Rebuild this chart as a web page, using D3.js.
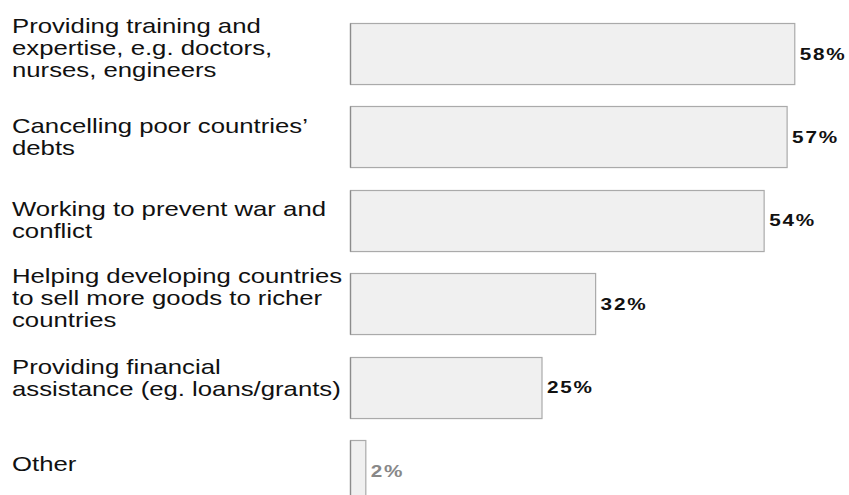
<!DOCTYPE html>
<html>
<head>
<meta charset="utf-8">
<script src="https://cdn.jsdelivr.net/npm/d3@7"></script>
<style>
  body { margin: 0; background: #fff; }
  svg { display: block; }
</style>
</head>
<body>
<div id="chart"></div>
<script>
// chart data
var categories = [
  "Providing training and expertise, e.g. doctors, nurses, engineers",
  "Cancelling poor countries’ debts",
  "Working to prevent war and conflict",
  "Helping developing countries to sell more goods to richer countries",
  "Providing financial assistance (eg. loans/grants)",
  "Other"
];
var labelLines = [
  ["Providing training and", "expertise, e.g. doctors,", "nurses, engineers"],
  ["Cancelling poor countries’", "debts"],
  ["Working to prevent war and", "conflict"],
  ["Helping developing countries", "to sell more goods to richer", "countries"],
  ["Providing financial", "assistance (eg. loans/grants)"],
  ["Other"]
];
var percents = [58, 57, 54, 32, 25, 2];

var svgWidth = 849;
var svgHeight = 495;

// small vertical nudges for the label blocks (layout, not data)
var labelNudge = [-6, 0, 0, -6, -9, -7];
var lineHeight = 22;
// the text in the reference is drawn a bit wide
var textStretch = 1.255;

var svg = d3.select("#chart")
  .append("svg")
  .attr("width", svgWidth)
  .attr("height", svgHeight);

var xScale = d3.scaleLinear()
  .domain([0, 100])
  .range([350, 350 + 766]);

var yScale = d3.scaleBand()
  .domain(categories)
  .range([23, 23 + 83.4 * (categories.length - 0.268)])
  .paddingInner(0.268)
  .paddingOuter(0);

var rows = categories.map(function(c, i) {
  return { cat: c, lines: labelLines[i], value: percents[i], i: i };
});

var row = svg.selectAll("g.row")
  .data(rows)
  .enter()
  .append("g")
  .attr("class", "row");

// bars
row.append("rect")
  .attr("x", xScale(0) + 0.5)
  .attr("y", d => Math.round(yScale(d.cat)) + 0.5)
  .attr("width", d => xScale(d.value) - xScale(0))
  .attr("height", yScale.bandwidth())
  .attr("fill", "#f0f0f0")
  .attr("stroke", "#aaaaaa")
  .attr("stroke-width", 1.2);

// darker left edge
row.append("line")
  .attr("x1", xScale(0) + 0.5)
  .attr("x2", xScale(0) + 0.5)
  .attr("y1", d => Math.round(yScale(d.cat)) + 0.5)
  .attr("y2", d => Math.round(yScale(d.cat)) + 0.5 + yScale.bandwidth())
  .attr("stroke", "#8c8c8c")
  .attr("stroke-width", 1.3);

// value labels
row.append("text")
  .attr("transform", d => `translate(${xScale(d.value) + 5.5}, ${yScale(d.cat) + yScale.bandwidth() / 2 + 6}) scale(${textStretch}, 1)`)
  .style("font-family", "'Liberation Sans', Arial, sans-serif")
  .style("font-size", "16.5px")
  .style("font-weight", "bold")
  .style("letter-spacing", "1.4px")
  .style("fill", d => d.cat === "Other" ? "#888888" : "#111111")
  .text(d => d.value + "%");

// category labels
var labels = row.append("text")
  .attr("transform", function(d) {
    var center = yScale(d.cat) + yScale.bandwidth() / 2 + labelNudge[d.i];
    var y0 = center - (d.lines.length - 1) * lineHeight / 2 + 7;
    return `translate(12, ${y0}) scale(${textStretch}, 1)`;
  })
  .style("font-family", "'Liberation Sans', Arial, sans-serif")
  .style("font-size", "20.5px")
  .style("fill", "#111111");

labels.selectAll("tspan")
  .data(d => d.lines)
  .enter()
  .append("tspan")
  .attr("x", 0)
  .attr("dy", (l, j) => j === 0 ? 0 : lineHeight)
  .text(l => l);
</script>
</body>
</html>
